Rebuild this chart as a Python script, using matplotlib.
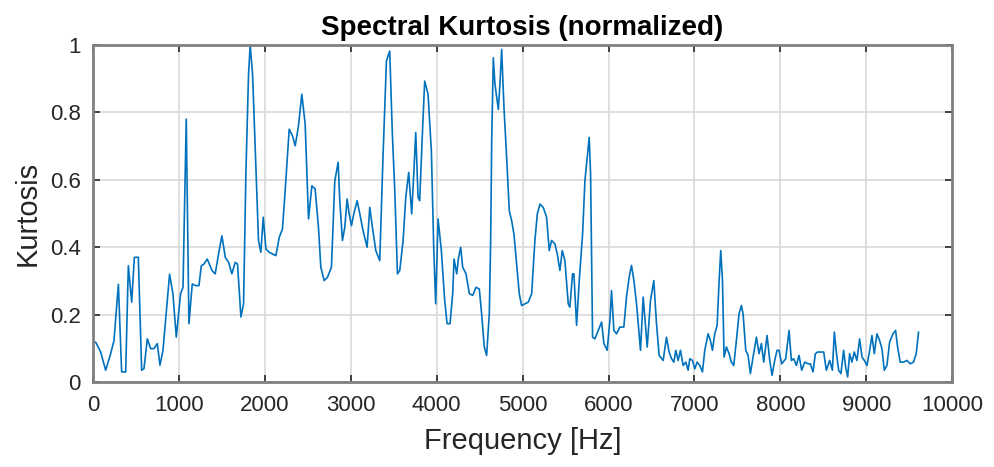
import matplotlib
matplotlib.use("Agg")
import matplotlib.pyplot as plt

# Normalized spectral kurtosis vs. frequency
freq_hz = [
    0, 31, 89, 147, 205, 244, 295, 333, 380, 411, 450, 481, 527, 566, 593, 632,
    671, 709, 748, 779, 814, 891, 930, 969, 1019, 1047, 1085, 1116, 1155, 1194,
    1233, 1260, 1291, 1329, 1384, 1422, 1461, 1500, 1539, 1578, 1616, 1655, 1682,
    1721, 1752, 1779, 1810, 1829, 1857, 1895, 1926, 1953, 1981, 2012, 2050, 2089,
    2128, 2167, 2205, 2244, 2283, 2322, 2353, 2391, 2430, 2469, 2508, 2547, 2585,
    2624, 2651, 2690, 2729, 2775, 2814, 2853, 2872, 2903, 2930, 2957, 2981, 3008,
    3035, 3074, 3105, 3143, 3190, 3221, 3252, 3291, 3337, 3376, 3415, 3453, 3484,
    3512, 3543, 3570, 3609, 3640, 3674, 3709, 3733, 3756, 3783, 3802, 3833, 3860,
    3899, 3938, 3965, 3988, 4016, 4054, 4093, 4121, 4155, 4186, 4202, 4233, 4252,
    4279, 4302, 4341, 4380, 4419, 4457, 4496, 4523, 4554, 4581, 4612, 4628, 4640,
    4659, 4678, 4717, 4736, 4756, 4783, 4814, 4845, 4872, 4899, 4930, 4961, 4988,
    5027, 5066, 5105, 5143, 5171, 5202, 5240, 5279, 5310, 5337, 5376, 5403, 5434,
    5461, 5492, 5531, 5550, 5581, 5597, 5628, 5659, 5698, 5725, 5752, 5775, 5791,
    5814, 5841, 5880, 5919, 5946, 5984, 6016, 6035, 6062, 6093, 6132, 6178, 6209,
    6240, 6267, 6295, 6326, 6372, 6403, 6450, 6488, 6527, 6558, 6589, 6636, 6674,
    6705, 6733, 6760, 6783, 6810, 6837, 6868, 6899, 6926, 6946, 6977, 7004, 7031,
    7062, 7093, 7120, 7159, 7186, 7209, 7236, 7264, 7287, 7306, 7326, 7345, 7372,
    7403, 7430, 7457, 7488, 7519, 7547, 7566, 7597, 7624, 7651, 7682, 7721, 7752,
    7779, 7806, 7845, 7876, 7903, 7934, 7961, 7984, 8016, 8062, 8101, 8128, 8155,
    8186, 8217, 8248, 8283, 8322, 8349, 8380, 8407, 8434, 8473, 8504, 8535, 8574,
    8605, 8628, 8651, 8678, 8705, 8736, 8760, 8783, 8806, 8833, 8860, 8891, 8922,
    8950, 8977, 9008, 9039, 9066, 9093, 9124, 9155, 9182, 9209, 9240, 9271, 9310,
    9341, 9364, 9395, 9434, 9473, 9512, 9550, 9581, 9608,
]
kurtosis = [
    0.118, 0.118, 0.089, 0.035, 0.084, 0.123, 0.290, 0.030, 0.030, 0.345, 0.237,
    0.370, 0.370, 0.035, 0.040, 0.128, 0.099, 0.099, 0.114, 0.050, 0.094, 0.320,
    0.262, 0.133, 0.262, 0.281, 0.780, 0.173, 0.291, 0.286, 0.286, 0.345, 0.350,
    0.365, 0.331, 0.321, 0.380, 0.434, 0.370, 0.355, 0.321, 0.355, 0.350, 0.193,
    0.232, 0.617, 0.913, 1.000, 0.913, 0.637, 0.420, 0.385, 0.489, 0.395, 0.385,
    0.380, 0.375, 0.429, 0.454, 0.597, 0.750, 0.730, 0.701, 0.760, 0.854, 0.765,
    0.484, 0.582, 0.573, 0.459, 0.341, 0.301, 0.311, 0.341, 0.597, 0.652, 0.538,
    0.420, 0.459, 0.543, 0.499, 0.464, 0.499, 0.538, 0.499, 0.449, 0.400, 0.518,
    0.459, 0.390, 0.360, 0.676, 0.953, 0.982, 0.735, 0.568, 0.321, 0.331, 0.420,
    0.548, 0.622, 0.499, 0.617, 0.740, 0.548, 0.538, 0.735, 0.893, 0.854, 0.686,
    0.400, 0.232, 0.484, 0.390, 0.242, 0.173, 0.173, 0.262, 0.365, 0.321, 0.365,
    0.400, 0.341, 0.321, 0.262, 0.257, 0.281, 0.276, 0.202, 0.104, 0.079, 0.202,
    0.420, 0.716, 0.962, 0.884, 0.809, 0.884, 0.987, 0.814, 0.666, 0.508, 0.479,
    0.439, 0.350, 0.262, 0.227, 0.232, 0.237, 0.262, 0.420, 0.499, 0.528, 0.518,
    0.489, 0.390, 0.420, 0.410, 0.380, 0.331, 0.390, 0.360, 0.232, 0.222, 0.321,
    0.321, 0.168, 0.301, 0.439, 0.597, 0.666, 0.726, 0.617, 0.133, 0.128, 0.153,
    0.178, 0.114, 0.094, 0.183, 0.271, 0.153, 0.143, 0.163, 0.163, 0.252, 0.311,
    0.346, 0.301, 0.232, 0.094, 0.252, 0.104, 0.242, 0.301, 0.173, 0.079, 0.064,
    0.133, 0.089, 0.069, 0.059, 0.094, 0.064, 0.094, 0.049, 0.059, 0.035, 0.069,
    0.064, 0.039, 0.059, 0.049, 0.030, 0.094, 0.143, 0.123, 0.094, 0.143, 0.168,
    0.301, 0.390, 0.301, 0.074, 0.104, 0.084, 0.059, 0.049, 0.123, 0.202, 0.227,
    0.202, 0.094, 0.079, 0.025, 0.074, 0.133, 0.084, 0.114, 0.059, 0.138, 0.064,
    0.020, 0.064, 0.094, 0.094, 0.054, 0.069, 0.153, 0.064, 0.069, 0.049, 0.079,
    0.035, 0.059, 0.054, 0.054, 0.030, 0.084, 0.089, 0.089, 0.089, 0.035, 0.064,
    0.035, 0.148, 0.089, 0.035, 0.025, 0.094, 0.044, 0.015, 0.084, 0.059, 0.089,
    0.064, 0.128, 0.074, 0.064, 0.049, 0.094, 0.138, 0.084, 0.143, 0.123, 0.099,
    0.035, 0.049, 0.118, 0.143, 0.153, 0.104, 0.059, 0.059, 0.064, 0.054, 0.059,
    0.084, 0.148,
]

x_ticks = list(range(0, 10001, 1000))
y_ticks = [0, 0.2, 0.4, 0.6, 0.8, 1]
y_tick_labels = ["0", "0.2", "0.4", "0.6", "0.8", "1"]

plt.rcParams["font.family"] = ["Liberation Sans", "DejaVu Sans"]

fig = plt.figure(figsize=(9.95, 4.67), dpi=100)
ax = fig.add_axes([0.0935, 0.182, 0.8635, 0.7216])

ax.plot(freq_hz, kurtosis, color="#0072BD", linewidth=1.2)

ax.set_xlim(0, 10000)
ax.set_ylim(0, 1)
ax.set_xticks(x_ticks)
ax.set_xticklabels([str(t) for t in x_ticks])
ax.set_yticks(y_ticks)
ax.set_yticklabels(y_tick_labels)

ax.grid(True, color="#d9d9d9", linewidth=1.2)
ax.set_axisbelow(True)
ax.tick_params(direction="in", length=5, width=1.2, colors="#262626",
               labelsize=16, top=True, right=True, pad=9)
for spine in ax.spines.values():
    spine.set_color("#808080")
    spine.set_linewidth(2)

ax.set_title("Spectral Kurtosis (normalized)", fontsize=20, fontweight="bold",
             color="black", pad=7)
ax.set_xlabel("Frequency [Hz]", fontsize=21, color="#262626", labelpad=8)
ax.set_ylabel("Kurtosis", fontsize=21, color="#262626", labelpad=6)

fig.savefig("out.png", dpi=100)
